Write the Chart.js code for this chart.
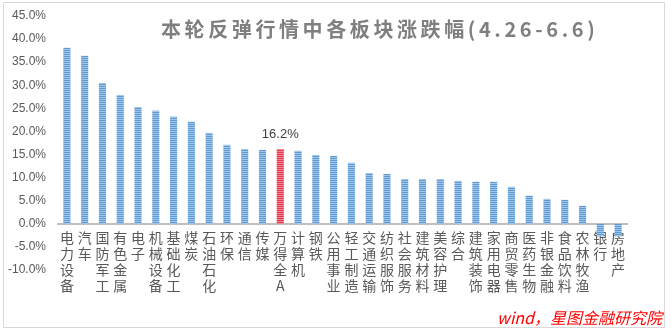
<!DOCTYPE html>
<html>
<head>
<meta charset="utf-8">
<script src="https://cdn.jsdelivr.net/npm/chart.js@4.4.1/dist/chart.umd.min.js"></script>
<style>
  body { margin: 0; background: #fff; }
  #wrap { position: relative; width: 671px; height: 332px; }
  #frame { position: absolute; left: 3px; top: 2px; width: 662px; height: 326px; border: 1px solid #d9d9d9; box-sizing: border-box; pointer-events: none; }
  #title { position: absolute; left: 161px; top: 14px; white-space: nowrap; font: bold 20px "Noto Sans CJK SC", sans-serif; color: #7f7f7f; letter-spacing: 3.6px; }
  #source { position: absolute; right: 9px; top: 305px; white-space: nowrap; font: italic 16px "Noto Sans CJK SC", sans-serif; color: #ff0000; }
</style>
</head>
<body>
<div id="wrap">
  <canvas id="chart" width="671" height="332"></canvas>
  <div id="frame"></div>
  <div id="title">本轮反弹行情中各板块涨跌幅(4.26-6.6)</div>
  <div id="source">wind，星图金融研究院</div>
</div>
<script>
const sectors = ['电力设备', '汽车', '国防军工', '有色金属', '电子', '机械设备', '基础化工', '煤炭',
  '石油石化', '环保', '通信', '传媒', '万得全A', '计算机', '钢铁', '公用事业', '轻工制造',
  '交通运输', '纺织服饰', '社会服务', '建筑材料', '美容护理', '综合', '建筑装饰', '家用电器',
  '商贸零售', '医药生物', '非银金融', '食品饮料', '农林牧渔', '银行', '房地产'];
const changes = [38.1, 36.4, 30.5, 27.9, 25.3, 24.5, 23.2, 22.1, 19.7, 17.1, 16.2, 16.0, 16.2,
  15.8, 14.9, 14.7, 13.2, 11.0, 10.8, 9.7, 9.7, 9.7, 9.3, 9.1, 9.1, 8.0, 6.1, 5.4, 5.2, 3.9, -2.7, -2.7];
const yTicks = [45, 40, 35, 30, 25, 20, 15, 10, 5, 0, -5, -10];
const benchmark = '万得全A';

// striped fill like the excel bars
function stripes(dark, light) {
  const c = document.createElement('canvas');
  c.width = 4; c.height = 2;
  const g = c.getContext('2d');
  g.fillStyle = dark; g.fillRect(0, 0, 4, 1);
  g.fillStyle = light; g.fillRect(0, 1, 4, 1);
  return g.createPattern(c, 'repeat');
}
const blue = stripes('#5b9bd5', '#a3c6ea');
const red = stripes('#e2384c', '#ec8a96');

const valueLabel = {
  id: 'valueLabel',
  afterDatasetsDraw(chart) {
    const i = sectors.indexOf(benchmark);
    const bar = chart.getDatasetMeta(0).data[i];
    const ctx = chart.ctx;
    ctx.save();
    ctx.font = '13px "Liberation Sans", sans-serif';
    ctx.fillStyle = '#404040';
    ctx.textAlign = 'center';
    ctx.textBaseline = 'bottom';
    ctx.fillText(changes[i].toFixed(1) + '%', bar.x, bar.y - 8);
    ctx.restore();
  }
};

new Chart(document.getElementById('chart'), {
  type: 'bar',
  data: {
    labels: sectors.map(s => s.split('')),
    datasets: [{
      data: changes,
      backgroundColor: sectors.map(s => s === benchmark ? red : blue),
      borderWidth: 0,
      categoryPercentage: 1,
      barPercentage: 0.4
    }]
  },
  options: {
    responsive: false,
    animation: false,
    events: [],
    layout: { padding: { top: 16, right: 44, bottom: 62, left: 0 } },
    plugins: { legend: { display: false }, tooltip: { enabled: false } },
    scales: {
      x: {
        position: { y: 0 },
        grid: { display: false, drawTicks: false },
        border: { display: true, color: '#bfbfbf', width: 2 },
        ticks: {
          autoSkip: false, maxRotation: 0, padding: 6,
          color: '#595959',
          font: { family: '"Noto Sans CJK SC"', size: 14, lineHeight: 1.15 }
        },
        afterFit(scale) { scale.height = 62; }
      },
      y: {
        min: -10, max: 45,
        grid: { display: false, drawTicks: false },
        border: { display: false },
        afterBuildTicks(scale) { scale.ticks = yTicks.map(v => ({ value: v })); },
        afterFit(scale) { scale.width = 58; scale.paddingTop = 0; scale.paddingBottom = 0; },
        ticks: {
          padding: 12,
          color: '#595959',
          font: { family: '"Liberation Sans"', size: 12 },
          callback: v => v.toFixed(1) + '%'
        }
      }
    }
  },
  plugins: [valueLabel]
});
</script>
</body>
</html>
